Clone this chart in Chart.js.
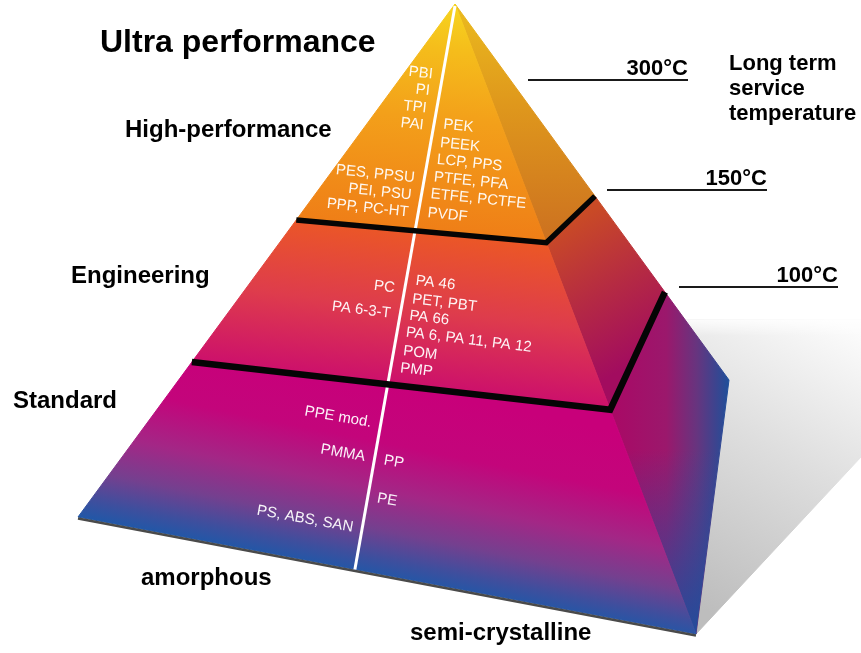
<!DOCTYPE html>
<html>
<head>
<meta charset="utf-8">
<script src="https://cdn.jsdelivr.net/npm/chart.js@4.4.1/dist/chart.umd.min.js"></script>
<style>
  html, body { margin: 0; padding: 0; background: #fff; }
  #wrap { width: 861px; height: 653px; position: relative; }
</style>
</head>
<body>
<div id="wrap"><canvas id="pyramidChart"></canvas></div>
<script>
// tiers, top to bottom
const tierNames = ['Ultra performance', 'High-performance', 'Engineering', 'Standard'];
const sideNames = ['amorphous', 'semi-crystalline'];
const tempLabels = ['300°C', '150°C', '100°C'];
const tempTitle = ['Long term', 'service', 'temperature'];

// polymers per tier, amorphous (left of the white line) and semi-crystalline (right)
const highAmorphous = ['PBI', 'PI', 'TPI', 'PAI', 'PES, PPSU', 'PEI, PSU', 'PPP, PC-HT'];
const highSemi = ['PEK', 'PEEK', 'LCP, PPS', 'PTFE, PFA', 'ETFE, PCTFE', 'PVDF'];
const engAmorphous = ['PC', 'PA 6-3-T'];
const engSemi = ['PA 46', 'PET, PBT', 'PA 66', 'PA 6, PA 11, PA 12', 'POM', 'PMP'];
const stdAmorphous = ['PPE mod.', 'PMMA', 'PS, ABS, SAN'];
const stdSemi = ['PP', 'PE'];

// ---- layout (in the pixel space of the hidden axes) ----
const apex = [455, 4], baseL = [78, 517], baseF = [696, 634], backR = [729, 380];
const cuts = [{ l: 0.421, f: 0.379, r: 0.511 }, { l: 0.698, f: 0.644, r: 0.766 }];
const divideAt = 0.448;   // where the white line meets the base
const rowsHighA = [73, 90, 107, 124, 174, 192, 208];
const rowsHighS = [126, 145, 163, 181, 199, 215];
const rowsEngA = [287, 310];
const rowsEngS = [283, 303, 318, 340, 353, 370];
const rowsStdA = [417, 453, 519];
const rowsStdS = [462, 500];
const tilt = [6, 7, 10];
const tempLines = [{ x0: 528, x1: 688, y: 80 }, { x0: 607, x1: 767, y: 190 }, { x0: 679, x1: 838, y: 287 }];

const lerp = (a, b, t) => [a[0] + (b[0] - a[0]) * t, a[1] + (b[1] - a[1]) * t];

const pyramidPlugin = {
  id: 'pyramid',
  afterDraw(chart) {
    const ctx = chart.ctx;
    const sx = chart.scales.x, sy = chart.scales.y;
    const P = p => [sx.getPixelForValue(p[0]), sy.getPixelForValue(p[1])];

    function path(pts) {
      ctx.beginPath();
      pts.forEach((p, i) => { const q = P(p); i ? ctx.lineTo(q[0], q[1]) : ctx.moveTo(q[0], q[1]); });
      ctx.closePath();
    }
    function grad(a, b, stops) {
      const pa = P(a), pb = P(b);
      const g = ctx.createLinearGradient(pa[0], pa[1], pb[0], pb[1]);
      stops.forEach(s => g.addColorStop(s[0], s[1]));
      return g;
    }
    function face(pts, fill) {
      path(pts);
      ctx.fillStyle = fill; ctx.fill();
      ctx.strokeStyle = fill; ctx.lineWidth = 1; ctx.stroke();
    }
    // foot of the perpendicular from p onto line a-b
    function foot(p, a, b) {
      const dx = b[0] - a[0], dy = b[1] - a[1];
      const t = ((p[0] - a[0]) * dx + (p[1] - a[1]) * dy) / (dx * dx + dy * dy);
      return [a[0] + dx * t, a[1] + dy * t];
    }
    // end point of a gradient from s whose colour bands have the given slope, reaching target
    function along(s, target, slope) {
      const n = Math.hypot(slope, 1), u = [-slope / n, 1 / n];
      const k = (target[0] - s[0]) * u[0] + (target[1] - s[1]) * u[1];
      return [s[0] + u[0] * k, s[1] + u[1] * k];
    }

    const c1L = lerp(apex, baseL, cuts[0].l), c1F = lerp(apex, baseF, cuts[0].f), c1R = lerp(apex, backR, cuts[0].r);
    const c2L = lerp(apex, baseL, cuts[1].l), c2F = lerp(apex, baseF, cuts[1].f), c2R = lerp(apex, backR, cuts[1].r);
    const footW = lerp(baseL, baseF, divideAt);

    ctx.save();

    // shadow behind the pyramid
    const shadow = [[685, 320], [861, 320], [861, 457], baseF, backR];
    face(shadow, grad([705, 610], [861, 335], [[0, '#bdbdbd'], [0.55, '#dedede'], [1, '#fbfbfb']]));
    path(shadow);
    ctx.fillStyle = grad([0, 318], [0, 336], [[0, 'rgba(255,255,255,0.9)'], [1, 'rgba(255,255,255,0)']]);
    ctx.fill();

    // right face
    face([apex, c1F, c1R], grad([0, 10], [0, 243], [[0, '#eab91e'], [0.4, '#df981c'], [1, '#cc7020']]));
    face([c1F, c2F, c2R, c1R], grad([565, 225], [640, 360], [[0, '#c94a26'], [0.5, '#b52a43'], [1, '#a20c5f']]));
    const low = [c2F, baseF, backR, c2R];
    face(low, grad([615, 0], [729, 0], [[0, '#a80a66'], [0.45, '#9b186c'], [0.72, '#66357f'], [1, '#1e4f9a']]));
    path(low);
    ctx.fillStyle = grad([0, 450], [0, 634], [[0, 'rgba(30,80,160,0)'], [1, 'rgba(28,78,158,0.9)']]);
    ctx.fill();

    // front face
    face([apex, c1L, c1F], grad(apex, foot(apex, c1L, c1F),
      [[0, '#f6d51f'], [0.2, '#f5bd1b'], [0.5, '#f3a01a'], [1, '#ef7e17']]));
    const s1 = lerp(c1L, c1F, 0.45);
    face([c1L, c2L, c2F, c1F], grad(s1, foot(s1, c2L, c2F),
      [[0, '#eb5726'], [0.5, '#de3c4c'], [1, '#cc0f6c']]));
    const s2 = lerp(c2L, c2F, 0.45);
    face([c2L, baseL, baseF, c2F], grad(s2, along(s2, [footW[0], footW[1] + 4], 0.2),
      [[0, '#c8007a'], [0.3, '#c3057b'], [0.55, '#a32786'], [0.75, '#74408f'], [0.9, '#3d4f9e'], [1, '#1f58a8']]));

    // dark rim under the base
    let a = P(baseL), b = P(baseF);
    ctx.beginPath(); ctx.moveTo(a[0], a[1] + 1.5); ctx.lineTo(b[0], b[1] + 1.5);
    ctx.strokeStyle = '#4a4a4a'; ctx.lineWidth = 2.4; ctx.stroke();

    // white divider amorphous / semi-crystalline
    a = P(apex); b = P(footW);
    ctx.beginPath(); ctx.moveTo(a[0], a[1] + 2); ctx.lineTo(b[0], b[1]);
    ctx.strokeStyle = '#ffffff'; ctx.lineWidth = 3; ctx.stroke();

    // black tier boundaries
    [[c1L, c1F, c1R, 5.5], [c2L, c2F, c2R, 6.5]].forEach(l => {
      ctx.beginPath();
      [l[0], l[1], l[2]].forEach((p, i) => { const q = P(p); i ? ctx.lineTo(q[0], q[1]) : ctx.moveTo(q[0], q[1]); });
      ctx.strokeStyle = '#050505'; ctx.lineWidth = l[3]; ctx.lineJoin = 'miter'; ctx.stroke();
    });

    // polymer labels
    const lineX = y => apex[0] + (footW[0] - apex[0]) * (y - apex[1]) / (footW[1] - apex[1]);
    ctx.font = '15px "Liberation Sans", Arial, sans-serif';
    ctx.fillStyle = 'rgba(255,255,255,0.94)';
    ctx.textAlign = 'center'; ctx.textBaseline = 'middle';
    const gap = 10;
    function column(list, rows, side, deg) {
      list.forEach((txt, i) => {
        const w = ctx.measureText(txt).width;
        const y = rows[i];
        const cx = side < 0 ? lineX(y) - gap - w / 2 : lineX(y) + gap + w / 2;
        const q = P([cx, y]);
        ctx.save();
        ctx.translate(q[0], q[1]);
        ctx.rotate(deg * Math.PI / 180);
        ctx.fillText(txt, 0, 0);
        ctx.restore();
      });
    }
    column(highAmorphous, rowsHighA, -1, tilt[0]);
    column(highSemi, rowsHighS, 1, tilt[0]);
    column(engAmorphous, rowsEngA, -1, tilt[1]);
    column(engSemi, rowsEngS, 1, tilt[1]);
    column(stdAmorphous, rowsStdA, -1, tilt[2]);
    column(stdSemi, rowsStdS, 1, tilt[2]);

    // category labels
    ctx.fillStyle = '#000';
    ctx.textAlign = 'left'; ctx.textBaseline = 'alphabetic';
    const txt = (s, p, font) => { const q = P(p); ctx.font = font; ctx.fillText(s, q[0], q[1]); };
    const bold = n => 'bold ' + n + 'px "Liberation Sans", Arial, sans-serif';
    txt(tierNames[0], [100, 52], bold(32));
    txt(tierNames[1], [125, 137], bold(24));
    txt(tierNames[2], [71, 283], bold(24));
    txt(tierNames[3], [13, 408], bold(24));
    txt(sideNames[0], [141, 585], bold(24));
    txt(sideNames[1], [410, 640], bold(24));
    tempTitle.forEach((s, i) => txt(s, [729, 70 + i * 25], bold(22)));

    // temperature levels
    ctx.textAlign = 'right';
    tempLines.forEach((t, i) => {
      const q0 = P([t.x0, t.y]), q1 = P([t.x1, t.y]);
      ctx.beginPath(); ctx.moveTo(q0[0], q0[1]); ctx.lineTo(q1[0], q1[1]);
      ctx.strokeStyle = '#1a1a1a'; ctx.lineWidth = 1.8; ctx.stroke();
      txt(tempLabels[i], [t.x1, t.y - 5], bold(22));
    });

    ctx.restore();
  }
};

new Chart(document.getElementById('pyramidChart'), {
  type: 'scatter',
  data: { datasets: [{ data: [], pointRadius: 0 }] },
  options: {
    responsive: true,
    maintainAspectRatio: false,
    animation: false,
    layout: { padding: 0 },
    plugins: { legend: { display: false }, tooltip: { enabled: false } },
    scales: {
      x: { type: 'linear', min: 0, max: 861, display: false },
      y: { type: 'linear', min: 0, max: 653, reverse: true, display: false }
    }
  },
  plugins: [pyramidPlugin]
});
</script>
</body>
</html>
